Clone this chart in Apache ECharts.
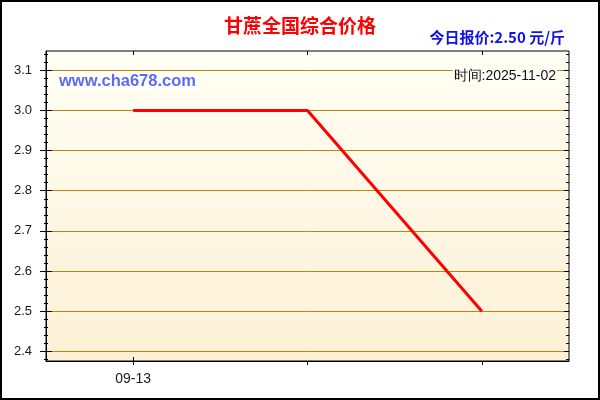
<!DOCTYPE html>
<html><head><meta charset="utf-8">
<script src="https://cdn.jsdelivr.net/npm/echarts@6/dist/echarts.min.js"></script>
<style>html,body{margin:0;padding:0;background:#fff}#c{width:600px;height:400px}</style>
</head><body><div id="c"></div>
<script>
var categories = ['09-13', '', ''];
var prices = [3.0, 3.0, 2.5];
var yTicks = [2.4, 2.5, 2.6, 2.7, 2.8, 2.9, 3.0, 3.1];
var yMin = 2.376, yMax = 3.148;
var titleText = '甘蔗全国综合价格';
var todayText = '今日报价:2.50 元/斤';
var siteText = 'www.cha678.com';
var dateText = '时间:2025-11-02';

var yMinor = [];
(function(){
  var steps = [-0.02, 0.02, 0.04, 0.06, 0.08];
  for (var i = 0; i < yTicks.length; i++) {
    for (var j = 0; j < steps.length; j++) {
      var v = Math.round((yTicks[i] + steps[j]) * 1000) / 1000;
      if (steps[j] < 0 && i > 0) continue;
      if (v > yMin && v < yMax && yTicks.indexOf(v) < 0 && yMinor.indexOf(v) < 0) yMinor.push(v);
    }
  }
})();

var chart = echarts.init(document.getElementById('c'));
function yAx(o) {
  var base = {
    type: 'value', min: yMin, max: yMax, splitNumber: 8, position: 'left',
    axisLine: {show: false}, axisLabel: {show: false}, splitLine: {show: false},
    axisTick: {show: false}
  };
  for (var k in o) base[k] = o[k];
  return base;
}
function xAx(o) {
  var base = {
    type: 'category', data: categories, boundaryGap: true, position: 'bottom',
    axisLine: {show: false}, axisLabel: {show: false}, splitLine: {show: false},
    axisTick: {show: false}
  };
  for (var k in o) base[k] = o[k];
  return base;
}
chart.setOption({
  animation: false,
  backgroundColor: '#ffffff',
  title: {
    text: titleText, left: 'center', top: 11,
    textStyle: {color: '#FF0000', fontSize: 19, fontWeight: 'bold', fontFamily: 'Noto Sans CJK SC'}
  },
  grid: {
    left: 46, right: 31, top: 51, bottom: 39, show: true,
    borderColor: '#000', borderWidth: 1,
    backgroundColor: new echarts.graphic.LinearGradient(0, 0, 0, 1, [
      {offset: 0, color: '#FFFFF4'}, {offset: 1, color: '#FDF0D6'}
    ])
  },
  xAxis: [
    xAx({
      axisLine: {show: true, lineStyle: {color: '#000', width: 1}},
      axisLabel: {show: true, margin: 11, color: '#1a1a1a', fontSize: 14, fontFamily: 'Liberation Sans'},
      axisTick: {show: true, alignWithLabel: true, length: 4, lineStyle: {color: '#000'}}
    }),
    xAx({
      axisTick: {show: true, inside: true, alignWithLabel: true, length: 4, lineStyle: {color: '#000'},
        interval: function (i) { return i === 0; }}
    }),
    xAx({
      position: 'top',
      axisTick: {show: true, inside: true, alignWithLabel: true, length: 4, lineStyle: {color: '#000'}}
    })
  ],
  yAxis: [
    yAx({
      axisLine: {show: true, lineStyle: {color: '#000', width: 1}},
      axisLabel: {show: true, customValues: yTicks, margin: 14, color: '#1a1a1a', fontSize: 13,
        fontFamily: 'Liberation Sans', formatter: function (v) { return v.toFixed(1); }},
      axisTick: {show: true, customValues: yTicks, length: 6, lineStyle: {color: '#000'}},
      splitLine: {show: true, lineStyle: {color: '#B8860B', width: 1}}
    }),
    yAx({axisTick: {show: true, inside: true, customValues: yTicks, length: 6, lineStyle: {color: '#000'}}}),
    yAx({axisTick: {show: true, customValues: yMinor, length: 2, lineStyle: {color: '#000'}}}),
    yAx({axisTick: {show: true, inside: true, customValues: yMinor, length: 2, lineStyle: {color: '#000'}}}),
    yAx({position: 'right', axisTick: {show: true, inside: true, customValues: yTicks, length: 5, lineStyle: {color: '#000'}}}),
    yAx({position: 'right', axisTick: {show: true, inside: true, customValues: yMinor, length: 3, lineStyle: {color: '#000'}}})
  ],
  series: [{
    type: 'line', data: prices, xAxisIndex: 0, yAxisIndex: 0,
    symbol: 'none', lineStyle: {color: '#FF0000', width: 3}, itemStyle: {color: '#FF0000'}, z: 5
  }],
  graphic: [
    {type: 'text', right: 35, top: 30, z: 10, style: {text: todayText, fill: '#1010E8',
      font: 'bold 15px "Noto Sans CJK SC"'}},
    {type: 'text', left: 57, top: 73, z: 10, style: {text: siteText, fill: '#5B6CF0',
      font: 'bold 16.5px "Liberation Sans"', backgroundColor: '#FFFFFF', padding: [0, 2, 0, 2]}},
    {type: 'text', right: 43, top: 67, z: 10, style: {text: dateText, fill: '#111',
      fontSize: 14, fontFamily: 'Liberation Sans', backgroundColor: '#FFFFF6', padding: [2, 1, 2, 1]}},
    {type: 'rect', z: 20, silent: true, shape: {x: 1, y: 1, width: 598, height: 398},
      style: {fill: 'none', stroke: '#000', lineWidth: 2}}
  ]
});
</script></body></html>
